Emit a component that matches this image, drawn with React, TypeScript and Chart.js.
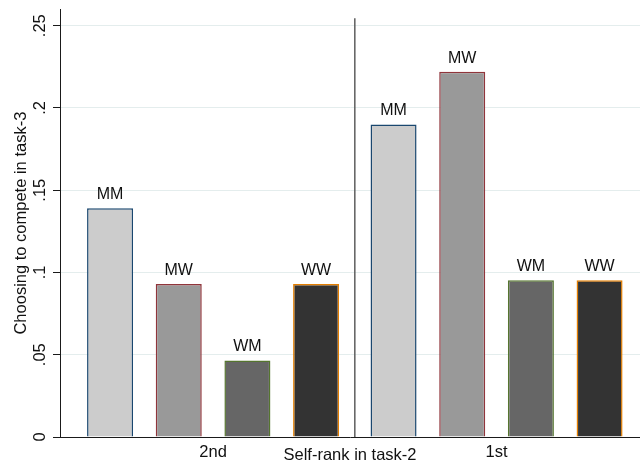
import React, { useEffect, useRef } from "react";
import { Chart, registerables } from "chart.js";

Chart.register(...registerables);

// ---- data ----
const categories = ["2nd", "1st"];
const categoryIndex = [1, 2];
const seriesNames = ["MM", "MW", "WM", "WW"];
const mmValues = [0.139, 0.19];
const mwValues = [0.093, 0.222];
const wmValues = [0.0465, 0.0953];
const wwValues = [0.093, 0.0953];
const yTickValues = [0, 0.05, 0.1, 0.15, 0.2, 0.25];
const yTickLabels = ["0", ".05", ".1", ".15", ".2", ".25"];
const yTitle = "Choosing to compete in task-3";
const xTitle = "Self-rank in task-2";

// ---- styles ----
const FONT = '"Liberation Sans", Arial, sans-serif';
const fills = ["#cccccc", "#999999", "#666666", "#333333"];
const borders = ["#1a476f", "#90353b", "#55752f", "#e37e00"];
const gridColor = "#e4eded";
const axisColor = "#1a1a1a";
const textColor = "#111111";

const textPlugin = {
  id: "stataText",
  afterDatasetsDraw(chart: any) {
    const { ctx, chartArea, scales } = chart;
    const xs = scales.x;
    const ys = scales.y;
    ctx.save();
    // separator line between the two groups
    const sx = xs.getPixelForValue((categoryIndex[0] + categoryIndex[1]) / 2);
    ctx.strokeStyle = "#5e5e5e";
    ctx.lineWidth = 1.5;
    ctx.beginPath();
    ctx.moveTo(sx, chartArea.top + 9);
    ctx.lineTo(sx, chartArea.bottom);
    ctx.stroke();

    ctx.fillStyle = textColor;
    ctx.textAlign = "center";
    ctx.textBaseline = "alphabetic";
    // bar labels
    ctx.font = `16px ${FONT}`;
    chart.data.datasets.forEach((ds: any, i: number) => {
      const meta = chart.getDatasetMeta(i);
      meta.data.forEach((el: any) => {
        ctx.fillText(ds.label, el.x, el.y - 9);
      });
    });
    // x category labels + title
    ctx.font = `16.5px ${FONT}`;
    categories.forEach((c, i) => {
      ctx.fillText(c, xs.getPixelForValue(categoryIndex[i]), chartArea.bottom + 20);
    });
    ctx.fillText(xTitle, (chartArea.left + chartArea.right) / 2, chartArea.bottom + 22.5);
    // y tick labels (rotated)
    yTickValues.forEach((v, i) => {
      const py = ys.getPixelForValue(v);
      ctx.save();
      ctx.translate(chartArea.left - 15, py);
      ctx.rotate(-Math.PI / 2);
      ctx.fillText(yTickLabels[i], 0, 0);
      ctx.restore();
    });
    // y title
    ctx.save();
    ctx.translate(chartArea.left - 34, (chartArea.top + chartArea.bottom) / 2);
    ctx.rotate(-Math.PI / 2);
    ctx.fillText(yTitle, 0, 0);
    ctx.restore();
    ctx.restore();
  },
};

export default function App() {
  const canvasRef = useRef<HTMLCanvasElement | null>(null);

  useEffect(() => {
    if (!canvasRef.current) return;
    const seriesValues = [mmValues, mwValues, wmValues, wwValues];
    const chart = new Chart(canvasRef.current, {
      type: "bar",
      data: {
        datasets: seriesNames.map((name, i) => ({
          label: name,
          data: seriesValues[i].map((v, j) => ({ x: categoryIndex[j], y: v })),
          backgroundColor: fills[i],
          borderColor: borders[i],
          borderWidth: 1.5,
          categoryPercentage: 0.969,
          barPercentage: 0.67,
        })),
      },
      options: {
        responsive: false,
        animation: false,
        events: [],
        layout: { padding: { top: 9.25, left: 0, right: 0, bottom: 0 } },
        plugins: {
          legend: { display: false },
          tooltip: { enabled: false },
          title: { display: false },
        },
        scales: {
          x: {
            type: "linear",
            offset: false,
            min: 0.46,
            max: 2.506,
            afterBuildTicks: (scale: any) => {
              scale.ticks = categoryIndex.map((v) => ({ value: v }));
            },
            afterFit: (scale: any) => {
              scale.height = 26;
            },
            grid: { display: false, drawTicks: false, offset: false },
            ticks: { display: false },
            border: { display: true, color: axisColor, width: 1 },
          },
          y: {
            type: "linear",
            min: 0,
            max: 0.26,
            afterBuildTicks: (scale: any) => {
              scale.ticks = yTickValues.map((v) => ({ value: v }));
            },
            afterFit: (scale: any) => {
              scale.width = 60;
            },
            grid: {
              color: (c: any) => (c.tick && c.tick.value === 0 ? "rgba(0,0,0,0)" : gridColor),
              tickColor: axisColor,
              tickLength: 7,
              lineWidth: 1,
            },
            ticks: { display: false },
            border: { display: true, color: axisColor, width: 1 },
          },
        },
      },
      plugins: [textPlugin],
    });
    return () => chart.destroy();
  }, []);

  return (
    <div style={{ position: "absolute", left: 0, top: 0, width: 640, height: 463, background: "#ffffff" }}>
      <canvas ref={canvasRef} width={640} height={463} style={{ display: "block" }} />
    </div>
  );
}
